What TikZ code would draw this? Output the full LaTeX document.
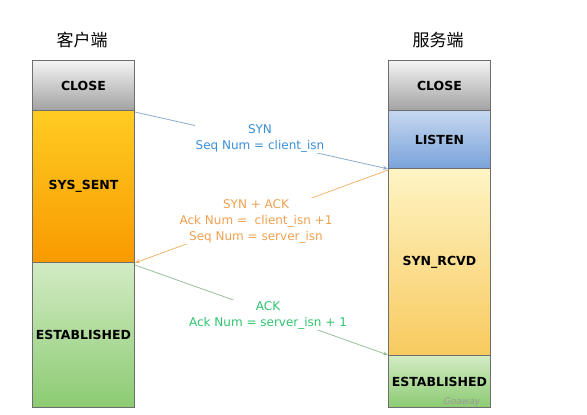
\documentclass[tikz,border=0pt]{standalone}
\usepackage{fontspec}
\setmainfont{DejaVu Sans}
\newfontfamily\cjk{Noto Sans CJK SC}
\usetikzlibrary{arrows.meta,shadings}
\definecolor{synblue}{HTML}{3A8FD8}
\definecolor{synline}{HTML}{8EA8CC}
\definecolor{ackorange}{HTML}{F0A050}
\definecolor{ackline}{HTML}{F2B566}
\definecolor{ackgreen}{HTML}{2EC46E}
\definecolor{ackgline}{HTML}{9ABF98}
\definecolor{boxline}{HTML}{6E6E6E}
\definecolor{grayT}{HTML}{F4F4F4}
\definecolor{grayB}{HTML}{A2A2A2}
\definecolor{orT}{HTML}{FFCC22}
\definecolor{orB}{HTML}{F89A00}
\definecolor{grT}{HTML}{D2EBC4}
\definecolor{grB}{HTML}{8CCB72}
\definecolor{blT}{HTML}{C6D8F0}
\definecolor{blB}{HTML}{7AA2DA}
\definecolor{ylT}{HTML}{FEF4C4}
\definecolor{ylB}{HTML}{F8CA5E}
\tikzset{
  state/.style={draw=boxline, line width=0.9pt, minimum width=102pt, anchor=north west,
    inner sep=0pt, font=\fontsize{12.5}{14}\selectfont\bfseries},
  grayst/.style={state, top color=grayT, bottom color=grayB},
  orangest/.style={state, top color=orT, bottom color=orB},
  greenst/.style={state, top color=grT, bottom color=grB},
  bluest/.style={state, top color=blT, bottom color=blB},
  yellowst/.style={state, top color=ylT, bottom color=ylB},
  title/.style={font=\cjk\fontsize{17}{19}\selectfont},
  msg/.style={font=\fontsize{12}{16}\selectfont, align=center, fill=white, inner sep=1pt},
  arr/.style={-{Stealth[length=5pt,width=4pt]}, line width=0.8pt}
}
\begin{document}
\begin{tikzpicture}[x=1pt,y=-1pt]
\useasboundingbox (0,0) rectangle (587,415);
% titles
\node[title] (tc) at (82,40) {客户端};
\node[title] (ts) at (438,40) {服务端};
% client column
\node[grayst, minimum height=50pt] (cclose) at (32,60) {CLOSE};
\node[orangest, minimum height=152pt] (csent) at (32,110) {SYS\_SENT};
\node[greenst, minimum height=145pt] (cest) at (32,262) {ESTABLISHED};
% server column
\node[grayst, minimum height=50pt] (sclose) at (388,60) {CLOSE};
\node[bluest, minimum height=58pt] (slisten) at (388,110) {LISTEN};
\node[yellowst, minimum height=187pt] (srcvd) at (388,168) {SYN\_RCVD};
\node[greenst, minimum height=52pt] (sest) at (388,355) {ESTABLISHED};
% arrows
\draw[arr, draw=synline] ([yshift=-2pt]csent.north east) -- (slisten.south west);
\draw[arr, draw=ackline] ([yshift=-2pt]srcvd.north west) -- (csent.south east);
\draw[arr, draw=ackgline] ([yshift=-3pt]cest.north east) -- (sest.north west);
% labels
\node[msg, text=synblue] (lsyn) at (260,138) {SYN\\Seq Num = client\_isn};
\node[msg, text=ackorange] (lsynack) at (256,221) {SYN + ACK\\Ack Num = \ client\_isn +1\\Seq Num = server\_isn};
\node[msg, text=ackgreen] (lack) at (268,315) {ACK\\Ack Num = server\_isn + 1};
% watermark
\node[font=\itshape\fontsize{9}{10}\selectfont, text=gray!80] (wm) at (462,402) {Goaway};
\end{tikzpicture}
\end{document}
